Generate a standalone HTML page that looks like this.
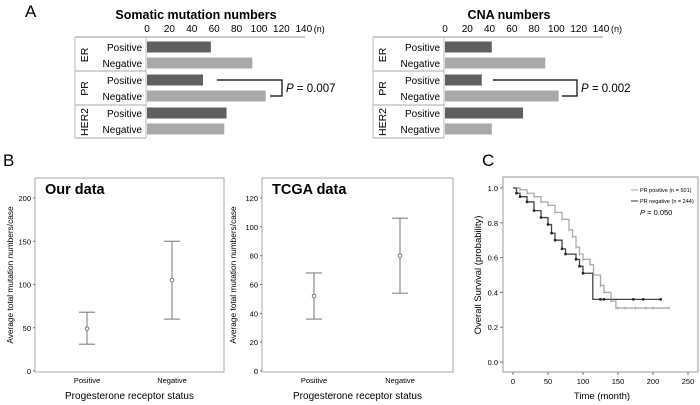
<!DOCTYPE html>
<html><head><meta charset="utf-8"><style>
html,body{margin:0;padding:0;background:#fff;}
svg{display:block;font-family:"Liberation Sans",Arial,sans-serif;}
</style></head><body>
<svg id="fig" width="700" height="405" viewBox="0 0 700 405"></svg>
<script>
const groups=["ER","PR","HER2"];
const subLabels=["Positive","Negative"];
const barTicks=[0,20,40,60,80,100,120,140];
const somaticValues=[57,94,50,106,71,69];
const cnaValues=[42,90,33,102,70,42];
const bCats=["Positive","Negative"];
const ourMean=[49,105],ourLow=[31,60],ourHigh=[68,150];
const ourTicks=[0,50,100,150,200];
const tcgaMean=[52,80],tcgaLow=[36,54],tcgaHigh=[68,106];
const tcgaTicks=[0,20,40,60,80,100,120];
const kmXTicks=[0,50,100,150,200,250];
const kmYTicks=[0,0.2,0.4,0.6,0.8,1.0];
const posT=[0,10,20,30,40,50,60,70,80,85,90,95,100,110,115,125,130,140,147,223];
const posS=[1,0.99,0.97,0.95,0.92,0.90,0.86,0.82,0.76,0.72,0.66,0.62,0.59,0.56,0.50,0.44,0.40,0.35,0.31,0.31];
const negT=[0,5,10,20,30,40,50,55,60,70,75,90,95,100,114,211];
const negS=[1,0.97,0.95,0.92,0.87,0.83,0.79,0.74,0.70,0.65,0.62,0.59,0.55,0.51,0.36,0.36];
const posCens=[150,160,175,190,200,223];
const negCens=[125,130,172,186,211];

const NS="http://www.w3.org/2000/svg";
const svg=document.getElementById('fig');
function mk(tag,attrs,parent){const e=document.createElementNS(NS,tag);for(const k in attrs)e.setAttribute(k,attrs[k]);(parent||svg).appendChild(e);return e;}
function txt(s,x,y,size,anchor,parent,extra){const e=mk('text',Object.assign({x:x,y:y,'font-size':size,'text-anchor':anchor||'start',fill:'#000'},extra||{}),parent);e.textContent=s;return e;}

let t;
t=txt("A",25,17,17);
t=txt("B",3,166,17);
t=txt("C",482,166,17);

function barPanel(name,title,vals,left,zero,scale,axisEnd,titleX,bracket,pText){
  const g=mk('g',{});
  
  
  const x=v=>zero+v*scale;
  const tt=txt(title,titleX,19,12.5,'middle',g,{'font-weight':'bold'});
  
  barTicks.forEach(v=>{const e=txt(String(v),x(v),32,10,'middle',g);});
  txt("(n)",x(140)+10,32,9,'start',g);
  mk('line',{x1:left,y1:37,x2:axisEnd,y2:37,stroke:'#bbb','stroke-width':1.5},g);
  const colX=zero-1;
  mk('line',{x1:left,y1:37,x2:left,y2:138,stroke:'#bbb','stroke-width':1},g);
  mk('line',{x1:colX,y1:37,x2:colX,y2:138,stroke:'#bbb','stroke-width':1},g);
  [71,105,138].forEach(y=>mk('line',{x1:left,y1:y,x2:colX,y2:y,stroke:'#bbb','stroke-width':1.2},g));
  groups.forEach((gr,i)=>{
    const cy=55+i*33.5;
    const e=txt(gr,0,0,10.5,'middle',g,{transform:`translate(${left+13},${cy}) rotate(-90)`});
    
    subLabels.forEach((s,j)=>{
      const yc=47+i*33+j*16;
      const l=txt(s,colX-4,yc+4,10,'end',g);
      
      const v=vals[i*2+j];
      const b=mk('rect',{x:zero,y:yc-5.5,width:x(v)-zero,height:11,fill:j==0?'#5f5f5f':'#a9a9a9'},g);
      
      
    });
  });
  mk('polyline',{points:`${bracket[0]},80 ${bracket[1]},80 ${bracket[1]},96 ${bracket[2]},96`,fill:'none',stroke:'#000','stroke-width':1.2},g);
  const p=mk('text',{x:bracket[1]+4,y:92,'font-size':11.5},g);
  p.innerHTML='<tspan font-style="italic">P</tspan> = '+pText;
  
}
barPanel('somatic-mutation-chart','Somatic mutation numbers',somaticValues,75,147,1.12,305,196,[217,282,270],'0.007');
barPanel('cna-chart','CNA numbers',cnaValues,373,445,1.114,603,509,[493,577,562],'0.002');

function errPanel(name,title,mean,lo,hi,ticks,fx0,fx1,cx,ymax,ytitleX){
  const g=mk('g',{});
  
  
  const y=v=>371-v*(173/ymax);
  mk('rect',{x:fx0,y:178,width:fx1-fx0,height:194,fill:'none',stroke:'#aaa','stroke-width':1},g);
  const tt=txt(title,fx0+10,194,14.5,'start',g,{'font-weight':'bold'});
  
  ticks.forEach(v=>{mk('line',{x1:fx0-2,y1:y(v),x2:fx0,y2:y(v),stroke:'#777'},g);
    const e=txt(String(v),fx0-4,y(v)+3,7.5,'end',g);});
  bCats.forEach((c,i)=>{
    const e=txt(c,cx[i],383,7.5,'middle',g);
    const eb=mk('g',{stroke:'#777','stroke-width':1,fill:'none'},g);
    
    
    mk('line',{x1:cx[i],y1:y(lo[i]),x2:cx[i],y2:y(hi[i])},eb);
    mk('line',{x1:cx[i]-8,y1:y(lo[i]),x2:cx[i]+8,y2:y(lo[i])},eb);
    mk('line',{x1:cx[i]-8,y1:y(hi[i]),x2:cx[i]+8,y2:y(hi[i])},eb);
    mk('circle',{cx:cx[i],cy:y(mean[i]),r:1.8,fill:'#fff'},eb);
  });
  const xt=txt("Progesterone receptor status",(fx0+fx1)/2,399,10,'middle',g);
  
  const yt=txt("Average total mutation numbers/case",0,0,8.3,'middle',g,{transform:`translate(${ytitleX},275) rotate(-90)`});
  
}
errPanel('our-data-chart','Our data',ourMean,ourLow,ourHigh,ourTicks,35,224,[87,172],200,13);
errPanel('tcga-data-chart','TCGA data',tcgaMean,tcgaLow,tcgaHigh,tcgaTicks,262,453,[314,400],120,236);

(function(){
  const g=mk('g',{});
  
  
  const X=v=>513+v*0.7, Y=v=>362-v*174;
  mk('rect',{x:503,y:177,width:195,height:195,fill:'none',stroke:'#999','stroke-width':1},g);
  kmXTicks.forEach(v=>{mk('line',{x1:X(v),y1:372,x2:X(v),y2:375,stroke:'#777'},g);
    const e=txt(String(v),X(v),384,7.5,'middle',g);});
  kmYTicks.forEach(v=>{mk('line',{x1:500,y1:Y(v),x2:503,y2:Y(v),stroke:'#777'},g);
    const e=txt(v.toFixed(1),498,Y(v)+3,7.5,'end',g);});
  function step(T,S,col,name){
    let d=`M${X(T[0])},${Y(S[0])}`;
    for(let i=1;i<T.length;i++){d+=` H${X(T[i])} V${Y(S[i])}`;}
    const p=mk('path',{d:d,fill:'none',stroke:col,'stroke-width':1.3},g);
    
  }
  function surv(T,S,t){let s=S[0];for(let i=0;i<T.length;i++){if(T[i]<=t)s=S[i];}return s;}
  step(posT,posS,'#aaa','pr-positive-curve');
  step(negT,negS,'#444','pr-negative-curve');
  posT.forEach((t,i)=>{if(i>0&&t<145)mk('line',{x1:X(t),y1:Y(posS[i])-1.5,x2:X(t),y2:Y(posS[i])+1.5,stroke:'#aaa'},g);});
  posCens.forEach(t=>mk('line',{x1:X(t),y1:Y(surv(posT,posS,t))-1.5,x2:X(t),y2:Y(surv(posT,posS,t))+1.5,stroke:'#aaa'},g));
  negT.forEach((t,i)=>{if(i>0&&t<110)mk('rect',{x:X(t)-1.2,y:Y(negS[i])-1.2,width:2.4,height:2.4,fill:'#222'},g);});
  negCens.forEach(t=>mk('rect',{x:X(t)-1.2,y:Y(surv(negT,negS,t))-1.2,width:2.4,height:2.4,fill:'#222'},g));
  const lg=mk('g',{},g);
  
  mk('line',{x1:631,y1:190,x2:638,y2:190,stroke:'#aaa'},lg);
  txt("PR positive (n = 501)",640,192,5.5,'start',lg);
  mk('line',{x1:631,y1:201,x2:638,y2:201,stroke:'#333'},lg);
  txt("PR negative (n = 244)",640,203,5.5,'start',lg);
  const p=mk('text',{x:640,y:215,'font-size':7.5},lg);p.innerHTML='<tspan font-style="italic">P</tspan> = 0.050';
  const xt=txt("Time (month)",602,399,9.5,'middle',g);
  const yt=txt("Overall Survival (probability)",0,0,9.5,'middle',g,{transform:'translate(481,275) rotate(-90)'});
  
})();
</script>
</body></html>
